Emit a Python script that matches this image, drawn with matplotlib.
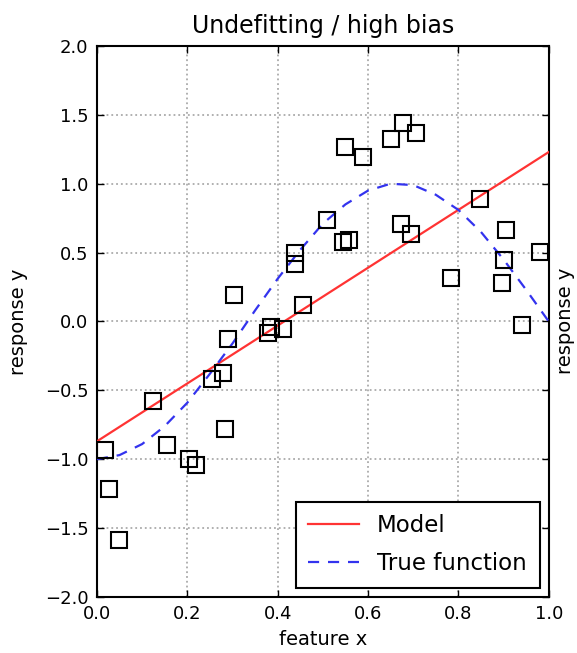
import matplotlib
matplotlib.use("Agg")
import matplotlib.pyplot as plt
import numpy as np

# Data
sample_x = [0.018, 0.027, 0.049, 0.125, 0.155, 0.204, 0.220, 0.255, 0.278, 0.283,
            0.290, 0.303, 0.379, 0.386, 0.412, 0.438, 0.438, 0.457, 0.509, 0.545,
            0.558, 0.550, 0.589, 0.650, 0.678, 0.707, 0.674, 0.696, 0.783, 0.847,
            0.905, 0.901, 0.896, 0.940, 0.980]
sample_y = [-0.93, -1.216, -1.586, -0.577, -0.897, -1.00, -1.04, -0.417, -0.372, -0.78,
            -0.129, 0.19, -0.086, -0.038, -0.057, 0.495, 0.42, 0.118, 0.737, 0.58,
            0.59, 1.27, 1.196, 1.325, 1.44, 1.366, 0.706, 0.633, 0.318, 0.889,
            0.664, 0.446, 0.277, -0.025, 0.502]

model_x = [0.0, 1.0]
model_y = [-0.87, 1.23]

true_x = [0.0, 0.05, 0.1, 0.15, 0.2, 0.25, 0.3, 0.35, 0.4, 0.45, 0.5,
          0.55, 0.6, 0.65, 0.7, 0.75, 0.8, 0.85, 0.9, 0.95, 1.0]
true_y = [-1.0, -0.97, -0.89, -0.76, -0.59, -0.38, -0.16, 0.08, 0.31, 0.52, 0.71,
          0.85, 0.95, 1.0, 0.99, 0.92, 0.81, 0.65, 0.45, 0.23, 0.0]

x_ticks = [0.0, 0.2, 0.4, 0.6, 0.8, 1.0]
y_ticks = [-2.0, -1.5, -1.0, -0.5, 0.0, 0.5, 1.0, 1.5, 2.0]

fig = plt.figure(figsize=(5.77, 6.53), dpi=100)
ax = fig.add_axes([0.168, 0.0858, 0.783, 0.8438])

ax.plot(model_x, model_y, color='#ff3333', lw=1.6, label='Model', zorder=3)
ax.plot(true_x, true_y, color='#3333ee', lw=1.6, ls=(0, (5, 4)), label='True function', zorder=3)
ax.plot(sample_x, sample_y, ls='none', marker='s', ms=12, mfc='none', mec='black', mew=1.5, zorder=4)

ax.set_xlim(0, 1)
ax.set_ylim(-2, 2)
ax.set_xticks(x_ticks)
ax.set_yticks(y_ticks)
ax.set_xticklabels([f"{v:.1f}" for v in x_ticks])
ax.set_yticklabels([f"{v:.1f}".replace('-', '\u2212') for v in y_ticks])
ax.tick_params(direction='in', top=True, right=True, length=5, width=1, labelsize=13, pad=6)
ax.grid(True, color='#aaaaaa', ls=':', lw=1.3)
for s in ax.spines.values():
    s.set_linewidth(1.5)

ax.set_title('Undefitting / high bias', fontsize=17, pad=9)
ax.set_xlabel('feature x', fontsize=14, labelpad=5)
ax.set_ylabel('response y', fontsize=14, labelpad=12)
fig.text(0.98, 0.508, 'response y', rotation=90, fontsize=14, ha='center', va='center')

leg = ax.legend(loc='lower right', fontsize=16.5, fancybox=False, framealpha=1,
                edgecolor='black', borderaxespad=0.4, handlelength=2.2,
                labelspacing=0.65, borderpad=0.55)
leg.get_frame().set_linewidth(1.5)

fig.savefig('out.png', dpi=100)
